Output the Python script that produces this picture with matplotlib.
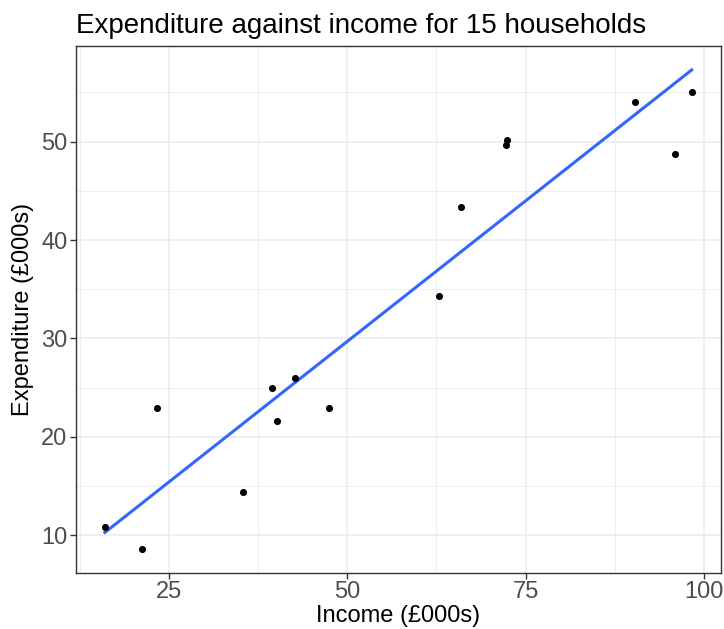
import numpy as np
import matplotlib.pyplot as plt
from matplotlib.ticker import MultipleLocator

# Dados
income = [16.0, 21.2, 23.3, 35.4, 39.4, 40.2, 42.6, 47.4,
          62.8, 66.0, 72.4, 72.3, 90.3, 95.9, 98.3]
expenditure = [10.8, 8.6, 22.9, 14.4, 25.0, 21.6, 26.0, 22.9,
               34.3, 43.4, 50.2, 49.7, 54.0, 48.7, 55.1]
x_ticks = [25, 50, 75, 100]
y_ticks = [10, 20, 30, 40, 50]

plt.rcParams['font.family'] = ['Liberation Sans', 'DejaVu Sans']

x = np.array(income)
y = np.array(expenditure)
slope, intercept = np.polyfit(x, y, 1)
x_line = np.array([x.min(), x.max()])
y_line = intercept + slope * x_line

fig = plt.figure(figsize=(7.24, 6.29), dpi=100)
ax = fig.add_axes([0.1044, 0.089, 0.8915, 0.8379])

# Linha de regressão e pontos
ax.plot(x_line, y_line, color='#3366FF', linewidth=2.2, zorder=3)
ax.scatter(x, y, s=26, color='black', zorder=4, linewidths=0)

# Limites com expansão de 5% (estilo ggplot)
all_y = np.concatenate([y, y_line])
xr = x.max() - x.min()
yr = all_y.max() - all_y.min()
ax.set_xlim(x.min() - 0.05 * xr, x.max() + 0.05 * xr)
ax.set_ylim(all_y.min() - 0.05 * yr, all_y.max() + 0.05 * yr)

ax.set_xticks(x_ticks)
ax.set_yticks(y_ticks)
ax.xaxis.set_minor_locator(MultipleLocator(12.5))
ax.yaxis.set_minor_locator(MultipleLocator(5))
ax.grid(True, which='major', color='#EBEBEB', linewidth=1.1)
ax.grid(True, which='minor', color='#EBEBEB', linewidth=0.6)
ax.set_axisbelow(True)

for s in ax.spines.values():
    s.set_color('#333333')
    s.set_linewidth(1.0)

ax.tick_params(axis='both', which='major', length=4, width=1, color='#333333',
               labelsize=17, labelcolor='#4D4D4D', pad=2)
ax.tick_params(axis='both', which='minor', length=0)

ax.set_xlabel('Income (£000s)', fontsize=17, color='black', labelpad=1)
ax.set_ylabel('Expenditure (£000s)', fontsize=17, color='black', labelpad=5)
ax.set_title('Expenditure against income for 15 households', fontsize=20,
             loc='left', pad=9)

fig.savefig('out.png', dpi=100)
